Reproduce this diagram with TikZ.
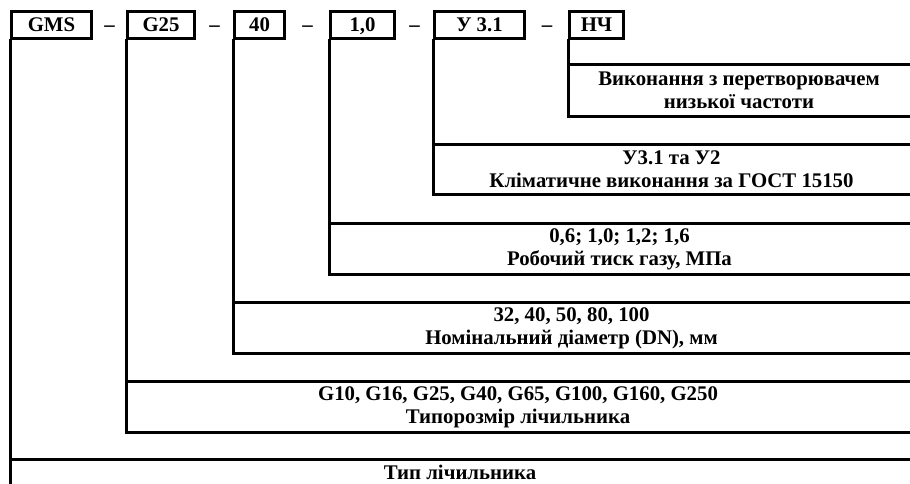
\documentclass[tikz,border=0pt]{standalone}
\usepackage{fontspec}
\setmainfont{Liberation Serif}
\usetikzlibrary{calc}
\begin{document}
\begin{tikzpicture}[x=1pt,y=-1pt,
  ln/.style={line width=3pt,line join=miter,line cap=rect},
  txt/.style={font=\fontsize{20.8}{23}\selectfont\bfseries},
  codebox/.style={txt,draw,line width=3pt,inner sep=0pt,text height=13pt,text depth=0pt,minimum height=27pt,anchor=north west},
  dashtxt/.style={txt,inner sep=0pt,anchor=base},
  desc/.style={txt,align=center,inner sep=0pt}]
\useasboundingbox (0,0) rectangle (910,483);
% code boxes
\node[codebox,minimum width=80pt] (gms) at (10,10) {GMS};
\node[codebox,minimum width=67pt] (g25) at (126,10) {G25};
\node[codebox,minimum width=50pt] (dn) at (233,10) {40};
\node[codebox,minimum width=64pt] (pr) at (329,10) {1,0};
\node[codebox,minimum width=90pt] (kl) at (433,10) {У 3.1};
\node[codebox,minimum width=54pt] (nch) at (568,10) {НЧ};
% dashes
\node[dashtxt] (d1) at ($(gms.base east)!0.5!(g25.base west)$) {–};
\node[dashtxt] (d2) at ($(g25.base east)!0.5!(dn.base west)$) {–};
\node[dashtxt] (d3) at ($(dn.base east)!0.5!(pr.base west)$) {–};
\node[dashtxt] (d4) at ($(pr.base east)!0.5!(kl.base west)$) {–};
\node[dashtxt] (d5) at ($(kl.base east)!0.5!(nch.base west)$) {–};
% levels
\draw[ln] (nch.south west) -- (nch.south west |- 0,116) -- (910,116);
\draw[ln] (nch.south west |- 0,64) -- (910,64);
\node[desc] (tnch) at (739,90) {Виконання з перетворювачем\\низької частоти};
\draw[ln] (kl.south west) -- (kl.south west |- 0,194) -- (910,194);
\draw[ln] (kl.south west |- 0,144) -- (910,144);
\node[desc] (tkl) at (671.5,169) {У3.1 та У2\\Кліматичне виконання за ГОСТ 15150};
\draw[ln] (pr.south west) -- (pr.south west |- 0,274) -- (910,274);
\draw[ln] (pr.south west |- 0,223) -- (910,223);
\node[desc] (tpr) at (619.5,249) {0,6; 1,0; 1,2; 1,6\\Робочий тиск газу, МПа};
\draw[ln] (dn.south west) -- (dn.south west |- 0,353) -- (910,353);
\draw[ln] (dn.south west |- 0,302) -- (910,302);
\node[desc] (tdn) at (571.5,328) {32, 40, 50, 80, 100\\Номінальний діаметр (DN), мм};
\draw[ln] (g25.south west) -- (g25.south west |- 0,432) -- (910,432);
\draw[ln] (g25.south west |- 0,381) -- (910,381);
\node[desc] (tg25) at (518,407) {G10, G16, G25, G40, G65, G100, G160, G250\\Типорозмір лічильника};
\draw[ln] (gms.south west) -- (gms.south west |- 0,490);
\draw[ln] (gms.south west |- 0,459) -- (910,459);
\node[txt,inner sep=0pt,text depth=0pt,anchor=base] (tgms) at (460,479) {Тип лічильника};
\end{tikzpicture}
\end{document}
